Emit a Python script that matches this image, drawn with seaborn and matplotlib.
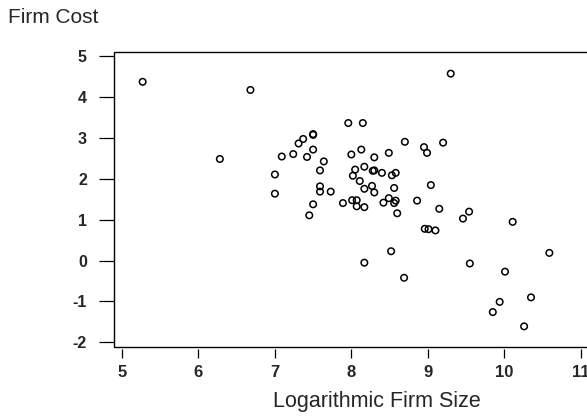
import pandas as pd
import matplotlib.pyplot as plt
import seaborn as sns
from matplotlib.patches import Rectangle

# log firm size vs firm cost
log_size = [5.27, 6.68, 6.28, 9.30, 7.96, 8.15, 7.50, 7.50, 7.37, 7.31,
            7.50, 7.24, 7.09, 7.42, 7.64, 7.59, 7.00, 7.00, 7.59, 7.59,
            7.73, 7.50, 7.45, 7.89, 8.01, 8.07, 8.07, 8.17, 8.00, 8.13,
            8.30, 8.49, 8.70, 8.95, 8.99, 9.20, 8.17, 8.05, 8.02, 8.28,
            8.30, 8.40, 8.53, 8.58, 8.11, 8.17, 8.27, 8.30, 8.56, 9.04,
            8.42, 8.49, 8.56, 8.58, 8.60, 8.86, 9.15, 9.46, 9.54, 10.11,
            8.96, 9.01, 9.10, 8.52, 10.59, 8.17, 9.55, 10.01, 8.69, 10.35,
            9.94, 9.85, 10.26]
firm_cost = [4.38, 4.18, 2.49, 4.58, 3.37, 3.37, 3.10, 3.08, 2.98, 2.87,
             2.72, 2.61, 2.55, 2.54, 2.43, 2.21, 2.11, 1.64, 1.82, 1.69,
             1.69, 1.38, 1.11, 1.41, 1.48, 1.48, 1.33, 1.31, 2.60, 2.72,
             2.53, 2.64, 2.91, 2.78, 2.64, 2.89, 2.30, 2.23, 2.08, 2.20,
             2.21, 2.15, 2.09, 2.15, 1.95, 1.76, 1.83, 1.67, 1.78, 1.85,
             1.42, 1.53, 1.41, 1.47, 1.16, 1.47, 1.27, 1.03, 1.20, 0.95,
             0.78, 0.77, 0.74, 0.23, 0.19, -0.05, -0.07, -0.27, -0.42, -0.90,
             -1.01, -1.26, -1.61]
x_ticks = [5, 6, 7, 8, 9, 10, 11]
y_ticks = [-2, -1, 0, 1, 2, 3, 4, 5]

df = pd.DataFrame({'size': log_size, 'cost': firm_cost})

sns.set_style('white')
plt.rcParams['font.family'] = ['Liberation Sans', 'DejaVu Sans']

fig = plt.figure(figsize=(5.87, 4.18), dpi=100)
# the box runs off the right edge of the picture
ax = fig.add_axes([114 / 587, 1 - 346.5 / 418, 526 / 587, 294.5 / 418])

sns.scatterplot(data=df, x='size', y='cost', ax=ax, marker='o', s=22,
                facecolors='none', edgecolor='black', linewidth=1.1)

# x ticks sit a little below the frame, y ticks touch it
# (move the spine first: set_position resets the ticks)
for s in ax.spines.values():
    s.set_visible(False)
ax.spines['bottom'].set_position(('outward', 1.5))
ax.add_patch(Rectangle((0, 0), 1, 1, transform=ax.transAxes, fill=False,
                       edgecolor='black', linewidth=1.0, clip_on=False))

ax.set_xlim(4.8954, 11.7757)
ax.set_ylim(-2.103, 5.110)
ax.set_xticks(x_ticks)
ax.set_yticks(y_ticks)
ax.set_xticklabels([str(t) for t in x_ticks], fontweight='bold', fontsize=12)
ax.set_yticklabels([str(t) for t in y_ticks], fontweight='bold', fontsize=11.5)
ax.tick_params(axis='x', direction='out', length=6.5, width=0.9, pad=5,
               color='black', bottom=True)
ax.tick_params(axis='y', direction='out', length=10.5, width=0.9, pad=9,
               color='black', left=True)

ax.set_xlabel('Logarithmic Firm Size', fontsize=15.5, labelpad=8)
ax.set_ylabel('')
fig.text(8 / 587, 1 - 23 / 418, 'Firm Cost', fontsize=15, va='baseline')

fig.savefig('out.png', dpi=100)
